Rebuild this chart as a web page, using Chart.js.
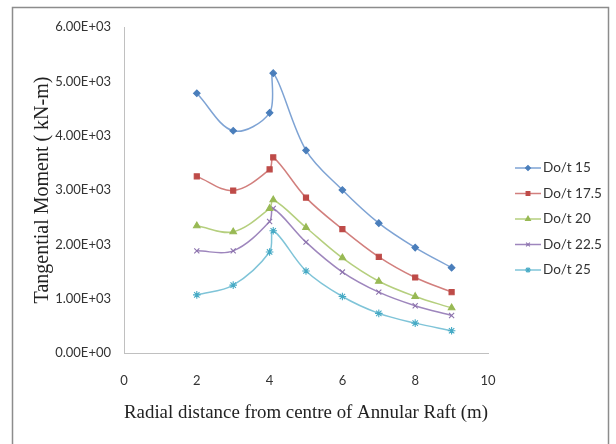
<!DOCTYPE html>
<html>
<head>
<meta charset="utf-8">
<script src="https://cdn.jsdelivr.net/npm/chart.js"></script>
<style>
  html, body { margin: 0; padding: 0; background: #fff; }
  #wrap { width: 616px; height: 444px; position: relative; }
</style>
</head>
<body>
<div id="wrap"><canvas id="chart" width="616" height="444"></canvas></div>
<script>
// radial distance (m)
const radialDist = [2, 3, 4, 4.1, 5, 6, 7, 8, 9];

// tangential moment (kN-m)
const dot15  = [4780, 4090, 4420, 5150, 3730, 3000, 2390, 1940, 1570];
const dot175 = [3250, 2990, 3380, 3600, 2860, 2280, 1770, 1390, 1120];
const dot20  = [2340, 2230, 2660, 2820, 2310, 1750, 1320, 1040, 830];
const dot225 = [1880, 1880, 2420, 2660, 2040, 1490, 1120, 870, 690];
const dot25  = [1070, 1250, 1860, 2250, 1510, 1040, 730, 550, 410];

const seriesNames = ['Do/t 15', 'Do/t 17.5', 'Do/t 20', 'Do/t 22.5', 'Do/t 25'];
const yTickLabels = ['0.00E+00', '1.00E+03', '2.00E+03', '3.00E+03', '4.00E+03', '5.00E+03', '6.00E+03'];
const xTickLabels = ['0', '2', '4', '6', '8', '10'];

const styles = [
  { line: '#7ea3d4', point: '#4a7ebb', shape: 'rectRot', r: 3.3 },
  { line: '#d27f7d', point: '#be4b48', shape: 'rect', r: 3.6 },
  { line: '#b5cf7e', point: '#98b954', shape: 'triangle', r: 3.8 },
  { line: '#9e86bd', point: '#8c72ad', shape: 'crossRot', r: 3.6 },
  { line: '#7fc4d8', point: '#46aac5', shape: 'star', r: 3.8 }
];

const allSeries = [dot15, dot175, dot20, dot225, dot25];

const datasets = allSeries.map((vals, i) => ({
  label: seriesNames[i],
  data: vals.map((v, j) => ({ x: radialDist[j], y: v })),
  showLine: true,
  borderColor: styles[i].line,
  borderWidth: 1.5,
  tension: 0.35,
  pointStyle: styles[i].shape,
  pointRadius: styles[i].r,
  pointBackgroundColor: styles[i].point,
  pointBorderColor: styles[i].point,
  pointBorderWidth: 1.1
}));

// outer frame like the exported figure
const framePlugin = {
  id: 'frame',
  beforeDraw(chart) {
    const ctx = chart.ctx;
    ctx.save();
    ctx.fillStyle = '#fff';
    ctx.fillRect(0, 0, chart.width, chart.height);
    ctx.strokeStyle = '#8c8c8c';
    ctx.lineWidth = 1.5;
    ctx.strokeRect(12.5, 7.5, 596, 460);
    ctx.restore();
  }
};

// legend with a line sample and marker, like the original
const sideLegend = {
  id: 'sideLegend',
  afterDraw(chart) {
    const ctx = chart.ctx;
    const x0 = 515, x1 = 541, yStart = 168, step = 25.5;
    ctx.save();
    chart.data.datasets.forEach((ds, i) => {
      const y = yStart + i * step;
      ctx.strokeStyle = ds.borderColor;
      ctx.lineWidth = 1.5;
      ctx.beginPath();
      ctx.moveTo(x0, y);
      ctx.lineTo(x1, y);
      ctx.stroke();
      ctx.fillStyle = ds.pointBackgroundColor;
      ctx.strokeStyle = ds.pointBorderColor;
      ctx.lineWidth = 1.1;
      Chart.helpers.drawPoint(ctx, {
        pointStyle: ds.pointStyle,
        radius: ds.pointRadius * 0.75,
        rotation: 0,
        borderWidth: 1.1
      }, (x0 + x1) / 2, y);
      ctx.fillStyle = '#333';
      ctx.font = '13.5px Lato';
      ctx.textAlign = 'left';
      ctx.textBaseline = 'middle';
      ctx.fillText(ds.label, x1 + 2, y);
    });
    ctx.restore();
  }
};

new Chart(document.getElementById('chart'), {
  type: 'scatter',
  data: { datasets },
  plugins: [framePlugin, sideLegend],
  options: {
    responsive: false,
    animation: false,
    layout: { padding: { top: 27, right: 128, left: 0, bottom: 0 } },
    plugins: {
      legend: { display: false },
      tooltip: { enabled: false }
    },
    scales: {
      x: {
        type: 'linear',
        min: 0,
        max: 10,
        afterFit(scale) { scale.height = 91; },
        afterBuildTicks(scale) {
          scale.ticks = xTickLabels.map(t => ({ value: Number(t) }));
        },
        grid: { display: true, drawOnChartArea: false, drawTicks: false },
        border: { color: '#c0c0c0', width: 1 },
        ticks: {
          padding: 20,
          color: '#333',
          font: { family: 'Lato', size: 13 },
          maxRotation: 0,
          callback: (v, i) => xTickLabels[i]
        },
        title: {
          display: true,
          text: 'Radial distance from centre of Annular Raft (m)',
          color: '#222',
          font: { family: 'Liberation Serif', size: 19 },
          padding: { top: 0, bottom: 20 }
        }
      },
      y: {
        type: 'linear',
        min: 0,
        max: 6000,
        afterFit(scale) { scale.width = 124; },
        afterBuildTicks(scale) {
          scale.ticks = yTickLabels.map(t => ({ value: Number(t) }));
        },
        grid: { display: true, drawOnChartArea: false, drawTicks: false },
        border: { color: '#c0c0c0', width: 1 },
        ticks: {
          padding: 13,
          color: '#333',
          font: { family: 'Lato', size: 13 },
          callback: (v, i) => yTickLabels[i]
        },
        title: {
          display: true,
          text: 'Tangential Moment ( kN-m)',
          color: '#222',
          font: { family: 'Liberation Serif', size: 20 },
          padding: { top: 31, bottom: 0 }
        }
      }
    }
  }
});
</script>
</body>
</html>
